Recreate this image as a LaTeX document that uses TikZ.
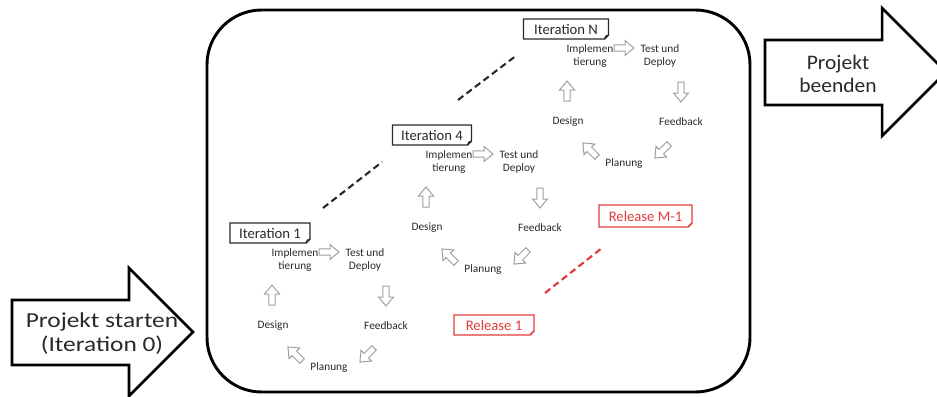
\documentclass[tikz,border=0pt]{standalone}
\usepackage{fontspec}
\setmainfont{Carlito}
\newfontfamily\widefont[FakeStretch=1.19]{Carlito}
\newfontfamily\semiwidefont[FakeStretch=1.04]{Carlito}
\definecolor{relred}{HTML}{E23A3A}
\definecolor{ink}{HTML}{2A2A2A}
\begin{document}
\begin{tikzpicture}[x=0.75pt,y=-0.75pt,
  frame/.style={draw=black, line width=2.2pt},
  bigarrow/.style={draw=black, line width=1.9pt, fill=white, line join=miter},
  bigtext/.style={align=center, text=ink, inner sep=0pt},
  steptext/.style={font=\fontsize{8.5}{9.8}\selectfont, align=center, text=ink, inner sep=0pt},
  taglabel/.style={font=\fontsize{11}{13}\selectfont, text=ink, inner sep=0pt},
  tagline/.style={draw=ink, line width=1.1pt, line join=miter},
  linkdash/.style={line width=1.6pt, dash pattern=on 5pt off 3pt},
  flow/.pic={\draw[gray!75, line width=0.75pt, line join=miter]
    (-10,-3.2) -- (1,-3.2) -- (1,-7.5) -- (10,0) -- (1,7.5) -- (1,3.2) -- (-10,3.2) -- cycle;}
]
\useasboundingbox (0,0) rectangle (937,396);
\clip (0,0) rectangle (937,396);

% one iteration: name, position of "Design", tag offset, tag width, tag text
\newcommand{\iterationcycle}[6]{%
  \begin{scope}[shift={(#2,#3)}]
    \node[steptext] (#1-design) at (0,0) {Design};
    \node[steptext] (#1-impl) at (22,-66) {Implemen\\tierung};
    \node[steptext] (#1-test) at (92,-66) {Test und\\Deploy};
    \node[steptext] (#1-feed) at (113,0) {Feedback};
    \node[steptext] (#1-plan) at (56,42) {Planung};
    \pic[rotate=90] at (-1,-31) {flow};
    \pic at (56,-74) {flow};
    \pic[rotate=-90] at (113,-30) {flow};
    \pic[rotate=-135] at (94,29) {flow};
    \pic[rotate=135] at (22,28) {flow};
    \begin{scope}[shift={(#4,-93)}]
      \draw[tagline] (-#5/2,-10) -- (#5/2,-10) -- (#5/2,6) -- (#5/2-4,10)
        -- (-#5/2,10) -- cycle;
      \draw[tagline, line width=0.6pt] (#5/2-4,10) -- (#5/2-3,7) -- (#5/2,6);
      \node[taglabel] (#1-tag) at (0,0) {#6};
    \end{scope}
  \end{scope}}

% main frame
\draw[frame, rounded corners=41pt] (207,10) rectangle (750,392);

% start and end arrows
\draw[bigarrow] (12,300) -- (129,300) -- (129,268) -- (193,332) -- (129,396)
  -- (129,365) -- (12,365) -- cycle;
\node[bigtext, font=\widefont\fontsize{16}{18}\selectfont] (start) at (102,334)
  {Projekt starten\\(Iteration 0)};
\draw[bigarrow] (765,40) -- (882,40) -- (882,8) -- (946,72) -- (882,136)
  -- (882,105) -- (765,105) -- cycle;
\node[bigtext, font=\semiwidefont\fontsize{15.5}{17.5}\selectfont] (finish) at (838,74)
  {Projekt\\beenden};

% iterations
\iterationcycle{itA}{273}{326}{-3}{80}{Iteration 1}
\iterationcycle{itB}{427}{228}{5}{79}{Iteration 4}
\iterationcycle{itC}{568}{122}{-2}{85}{Iteration N}

% gaps between iterations
\coordinate (gapA1) at (323,208);
\coordinate (gapA2) at (382,162);
\coordinate (gapB1) at (458,100);
\coordinate (gapB2) at (517,55);
\draw[linkdash, ink] (gapA1) -- (gapA2);
\draw[linkdash, ink] (gapB1) -- (gapB2);

% releases
\begin{scope}[shift={(494,325)}]
  \draw[tagline, draw=relred] (-40,-10) -- (40,-10) -- (40,6) -- (36,10) -- (-40,10) -- cycle;
  \node[taglabel, text=relred] (rel1) at (0,0) {Release 1};
\end{scope}
\begin{scope}[shift={(645.5,216)}]
  \draw[tagline, draw=relred] (-46.5,-11) -- (46.5,-11) -- (46.5,7) -- (42.5,11) -- (-46.5,11) -- cycle;
  \node[taglabel, text=relred] (relM) at (0,0) {Release M-1};
\end{scope}
\coordinate (relgap1) at (545,293);
\coordinate (relgap2) at (602,248);
\draw[linkdash, relred] (relgap1) -- (relgap2);
\end{tikzpicture}
\end{document}
